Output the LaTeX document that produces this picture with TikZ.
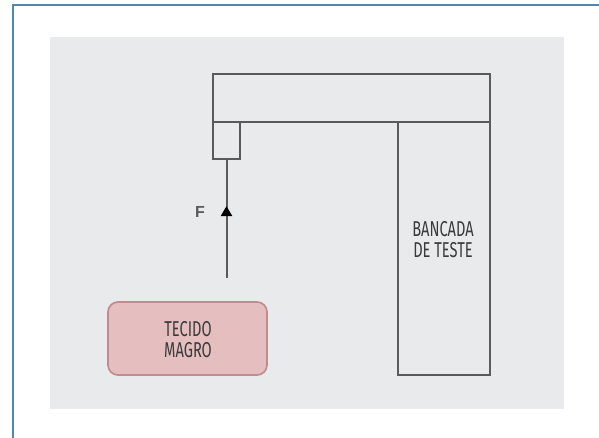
\documentclass[tikz,border=0pt]{standalone}
\usepackage{fontspec}
\setmainfont[FakeStretch=0.68]{Fira Sans}
\newfontfamily\labelfont{Liberation Sans}
\usetikzlibrary{arrows.meta,decorations.markings}
\definecolor{framecol}{HTML}{4F88B0}
\definecolor{panelcol}{HTML}{E9EAEC}
\definecolor{linecol}{HTML}{5A5A5A}
\definecolor{tissuefill}{HTML}{E5BFBF}
\definecolor{tissueline}{HTML}{C08C8E}
\definecolor{textcol}{HTML}{3A3A3A}
\tikzset{
  x=1pt,y=-1pt,
  part/.style={draw=linecol,line width=1.7pt,inner sep=0pt,outer sep=0pt,anchor=north west},
  caption/.style={text=textcol,font=\fontsize{21.5}{21}\selectfont,align=center,inner sep=0pt},
  force/.style={draw=linecol,line width=2pt,postaction={decorate},
    decoration={markings,mark=at position 0.605 with {\arrow[black]{Triangle[width=11pt,length=10pt]}}}}
}
\begin{document}
\begin{tikzpicture}
\useasboundingbox (0,0) rectangle (599,438);
\fill[white] (0,0) rectangle (599,438);
\draw[framecol,line width=2pt] (13,438) -- (13,5) -- (599,5);
\fill[panelcol] (50,37) rectangle (564,409);
\node[part,minimum width=92pt,minimum height=253pt] (bench) at (398,122) {};
\node[caption] (benchtext) at (443,239.5) {BANCADA\\DE TESTE};
\node[part,minimum width=277pt,minimum height=48pt] (beam) at (213,74) {};
\node[part,minimum width=27pt,minimum height=37pt] (holder) at (213,122) {};
\coordinate (forcebase) at (226.5,278);
\draw[force] (forcebase) -- (forcebase |- holder.south);
\node[text=linecol,font=\labelfont\bfseries\fontsize{16}{16}\selectfont,inner sep=0pt] (flabel) at (200,212) {F};
\node[part,draw=tissueline,fill=tissuefill,rounded corners=10pt,minimum width=159pt,minimum height=73pt] (tissue) at (108,302) {};
\node[caption] (tissuetext) at (188,340) {TECIDO\\MAGRO};
\end{tikzpicture}
\end{document}
